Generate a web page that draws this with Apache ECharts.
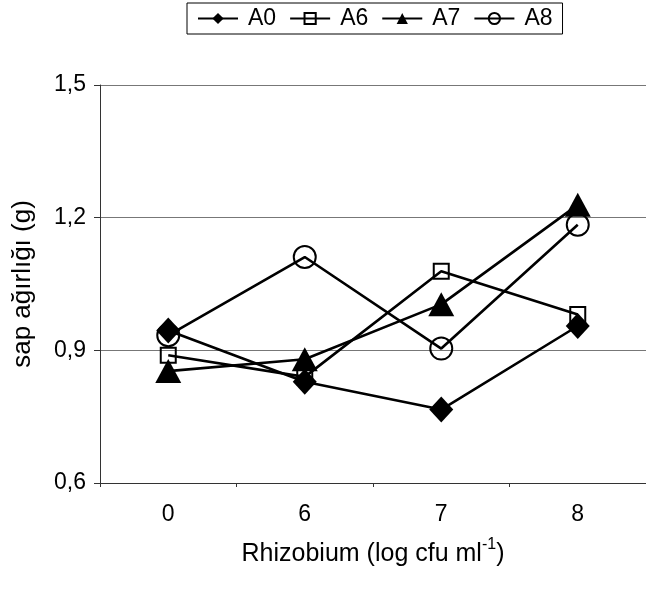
<!DOCTYPE html>
<html>
<head>
<meta charset="utf-8">
<script src="https://cdn.jsdelivr.net/npm/echarts@6/dist/echarts.min.js"></script>
<style>
  html, body { margin: 0; padding: 0; background: #fff; }
  #chart { width: 646px; height: 589px; }
</style>
</head>
<body>
<div id="chart"></div>
<script>
// Rhizobium dose levels (log cfu ml-1)
const categories = ['0', '6', '7', '8'];

// Stem weight (g) per treatment
const seriesNames = ['A0', 'A6', 'A7', 'A8'];
const valuesA0 = [0.945, 0.829, 0.766, 0.955];
const valuesA6 = [0.889, 0.840, 1.079, 0.981];
const valuesA7 = [0.853, 0.880, 1.004, 1.229];
const valuesA8 = [0.934, 1.111, 0.904, 1.184];

const yTicks = { min: 0.6, max: 1.5, step: 0.3 };

const FONT = '"Liberation Sans", Arial, sans-serif';
const INK = '#000';

const chart = echarts.init(document.getElementById('chart'), null, { renderer: 'canvas' });

function lineSeries(name, data, symbol, size, hollow) {
  return {
    name: name,
    type: 'line',
    data: data,
    symbol: symbol,
    symbolSize: size,
    showAllSymbol: true,
    lineStyle: { color: '#000', width: 2.6 },
    itemStyle: hollow
      ? { color: 'rgba(255,255,255,0)', borderColor: '#000', borderWidth: 2 }
      : { color: '#000', borderColor: '#000', borderWidth: 0 },
    emphasis: { disabled: true },
    animation: false
  };
}

chart.setOption({
  backgroundColor: '#fff',
  animation: false,
  textStyle: { fontFamily: FONT, color: INK },
  legend: {
    data: seriesNames,
    left: 187,
    top: 3,
    padding: [4, 10, 4, 10],
    itemGap: 13,
    itemWidth: 40,
    itemHeight: 14,
    borderColor: '#000',
    borderWidth: 1,
    textStyle: { fontFamily: FONT, fontSize: 23, color: INK, padding: [0, 0, 0, 5] }
  },
  grid: { left: 100, top: 85, width: 554, height: 398, containLabel: false },
  xAxis: {
    type: 'category',
    data: categories,
    boundaryGap: true,
    name: 'Rhizobium (log cfu ml{sup|-1})',
    nameLocation: 'middle',
    nameGap: 54,
    nameTextStyle: {
      fontFamily: FONT, fontSize: 25, color: INK,
      rich: { sup: { fontFamily: FONT, fontSize: 16, color: INK, padding: [0, 0, 18, 0] } }
    },
    axisLine: { lineStyle: { color: '#333', width: 1 } },
    axisTick: { show: true, length: 4, lineStyle: { color: '#333' } },
    axisLabel: { fontFamily: FONT, fontSize: 23, color: INK, margin: 20 },
    splitLine: { show: false }
  },
  yAxis: {
    type: 'value',
    min: yTicks.min,
    max: yTicks.max,
    interval: yTicks.step,
    name: 'sap ağırlığı (g)',
    nameLocation: 'middle',
    nameGap: 64,
    nameTextStyle: { fontFamily: FONT, fontSize: 26, color: INK },
    axisLine: { show: true, lineStyle: { color: '#333', width: 1 } },
    axisTick: { show: true, length: 6, lineStyle: { color: '#333' } },
    axisLabel: {
      fontFamily: FONT, fontSize: 23, color: INK, margin: 14,
      formatter: v => v.toFixed(1).replace('.', ',')
    },
    splitLine: { show: true, lineStyle: { color: '#777', width: 1 } }
  },
  series: [
    lineSeries('A0', valuesA0, 'diamond', [24, 26], false),
    lineSeries('A6', valuesA6, 'rect', 15, true),
    lineSeries('A7', valuesA7, 'triangle', [26, 24], false),
    lineSeries('A8', valuesA8, 'circle', 22, true)
  ]
});
</script>
</body>
</html>
